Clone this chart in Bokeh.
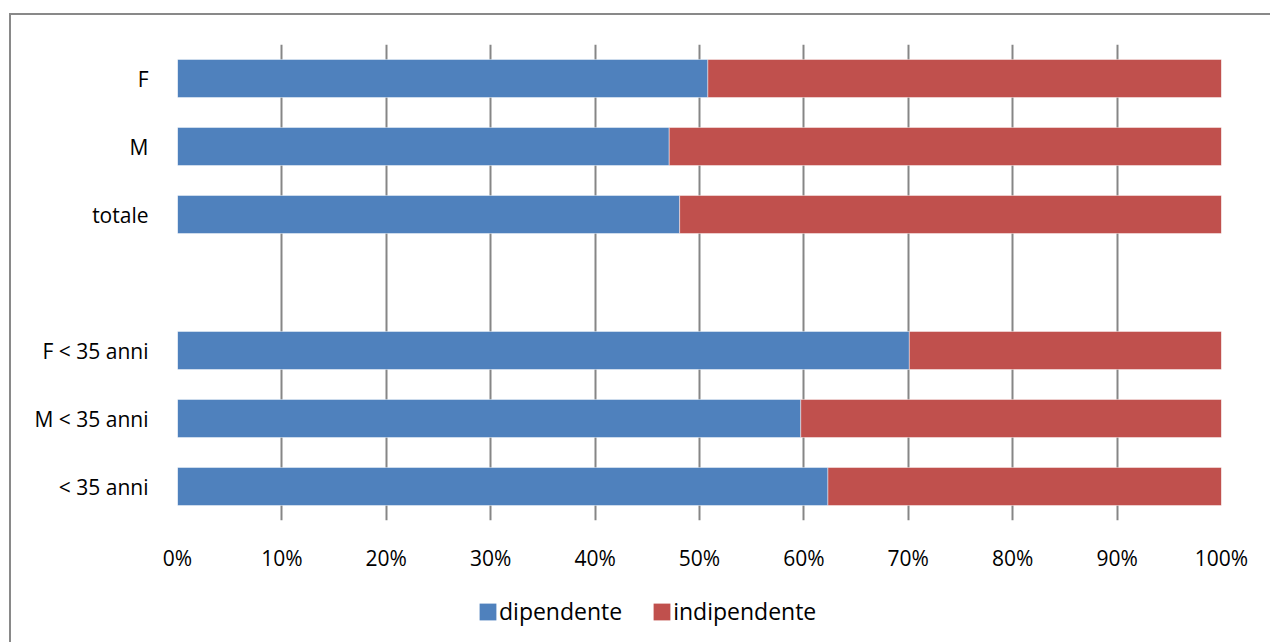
from bokeh.plotting import figure
from bokeh.models import FactorRange, Range1d, FixedTicker, Legend, LegendItem
from bokeh.layouts import column
from bokeh.embed import file_html
from bokeh.resources import INLINE

# Data (top to bottom in the chart: F, M, totale, blank, F < 35 anni, M < 35 anni, < 35 anni)
categories = ["F", "M", "totale", "F < 35 anni", "M < 35 anni", "< 35 anni"]
dipendente = [50.8, 47.1, 48.1, 70.1, 59.7, 62.3]
indipendente = [49.2, 52.9, 51.9, 29.9, 40.3, 37.7]
y_factors = ["< 35 anni", "M < 35 anni", "F < 35 anni", " ", "totale", "M", "F"]
x_ticks = [0, 10, 20, 30, 40, 50, 60, 70, 80, 90, 100]
x_tick_labels = ["0%", "10%", "20%", "30%", "40%", "50%", "60%", "70%", "80%", "90%", "100%"]
series = ["dipendente", "indipendente"]
colors = ["#4F81BD", "#C0504D"]

FONT = "Open Sans"
GRID = "#868686"

p = figure(
    y_range=FactorRange(factors=y_factors, range_padding=0),
    x_range=Range1d(0, 100),
    width=1259, height=580,
    output_backend="svg", toolbar_location=None,
    min_border_left=166, min_border_right=49,
    min_border_top=29, min_border_bottom=75,
)

data = dict(cat=categories, dipendente=dipendente, indipendente=indipendente)
p.hbar_stack(series, y="cat", height=0.56, color=colors, source=data,
             line_color="white", line_alpha=0.45, line_width=1)

p.outline_line_color = None
p.ygrid.grid_line_color = None
p.xgrid.ticker = FixedTicker(ticks=x_ticks)
p.xgrid.grid_line_color = GRID
p.xgrid.grid_line_width = 2
p.xgrid.level = "underlay"

p.xaxis.ticker = FixedTicker(ticks=x_ticks)
p.xaxis.major_label_overrides = {t: l for t, l in zip(x_ticks, x_tick_labels)}
p.xaxis.axis_line_color = None
p.xaxis.major_tick_line_color = None
p.xaxis.minor_tick_line_color = None
p.xaxis.major_label_standoff = 17
p.xaxis.major_label_text_font = FONT
p.xaxis.major_label_text_font_size = "21px"
p.xaxis.major_label_text_color = "#000000"

p.yaxis.axis_line_color = None
p.yaxis.major_tick_line_color = None
p.yaxis.minor_tick_line_color = None
p.yaxis.major_label_standoff = 23
p.yaxis.major_label_text_font = FONT
p.yaxis.major_label_text_font_size = "21px"
p.yaxis.major_label_text_color = "#000000"

# Legend strip below the chart (its frame is aligned with the main chart's frame)
p2 = figure(width=1259, height=47, output_backend="svg", toolbar_location=None,
            x_range=Range1d(0, 1), y_range=Range1d(0, 1),
            x_axis_location=None, y_axis_location=None,
            min_border=0)
p2.outline_line_color = None
p2.grid.visible = False
items = []
for name, col in zip(series, colors):
    # invisible proxy (zero-size) glyph that only supplies the legend swatch
    r = p2.hbar(y=[-1], left=[0], right=[0], height=0, fill_color=col, line_color=None)
    items.append(LegendItem(label=name, renderers=[r]))
lg = Legend(items=items, orientation="horizontal", location=(300, 15),
            border_line_color=None, background_fill_alpha=0, padding=0, margin=0,
            spacing=29, glyph_width=21, glyph_height=21, label_standoff=1,
            label_text_font=FONT, label_text_font_size="23px",
            label_text_color="#000000", label_height=17)
p2.add_layout(lg)

layout = column(p, p2, spacing=0)
layout.margin = (13, 0, 0, 9)
layout.styles = {"border-left": "2px solid #898989", "border-top": "2px solid #898989"}

open("out.html", "w").write(file_html(layout, INLINE))
